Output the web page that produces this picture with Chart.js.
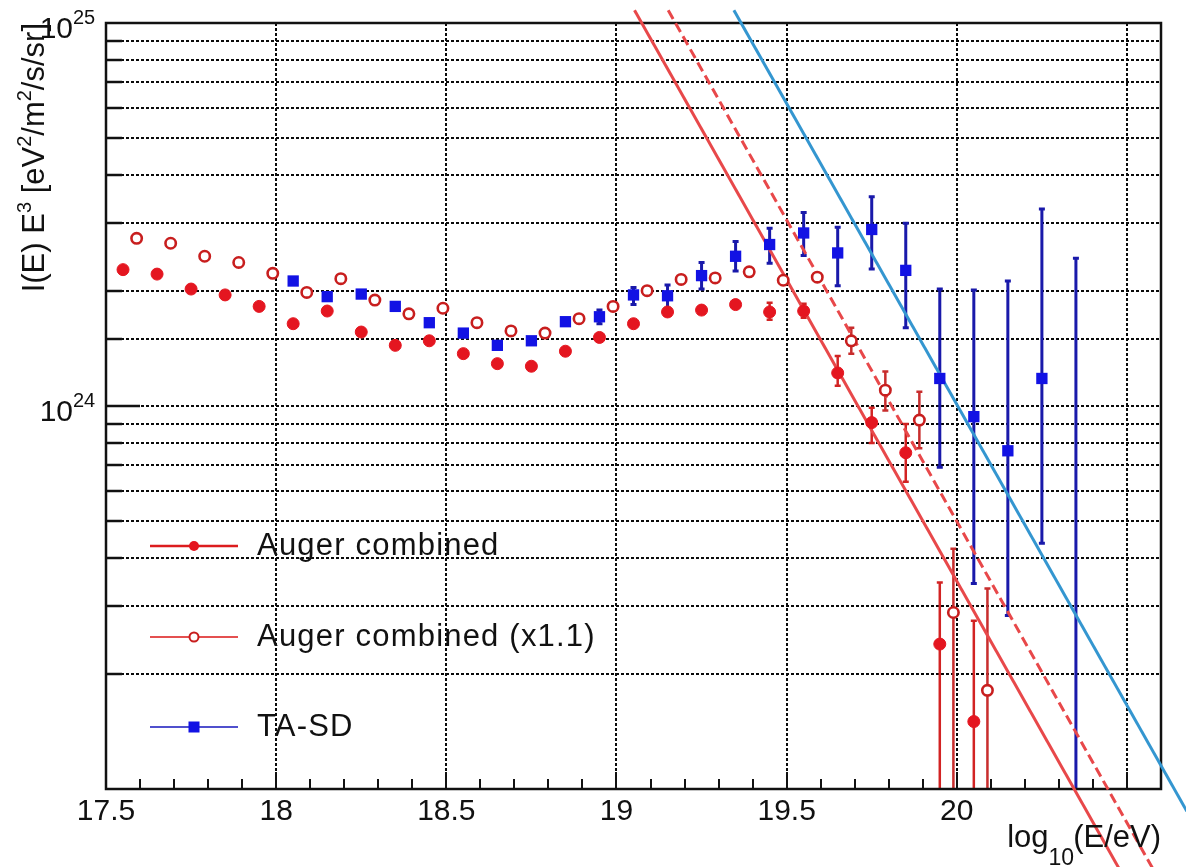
<!DOCTYPE html>
<html>
<head>
<meta charset="utf-8">
<script src="https://cdn.jsdelivr.net/npm/chart.js@4.4.0/dist/chart.umd.min.js"></script>
<style>
  html, body { margin: 0; padding: 0; background: #ffffff; }
  #wrap { width: 1186px; height: 867px; position: relative; }
</style>
</head>
<body>
<div id="wrap"><canvas id="c"></canvas></div>
<script>
// ---------------- data ----------------
// Auger combined (filled red circles)
const augerX = [17.55, 17.65, 17.75, 17.85, 17.95, 18.05, 18.15, 18.25, 18.35, 18.45, 18.55, 18.65, 18.75,
                18.85, 18.95, 19.05, 19.15, 19.25, 19.35, 19.45, 19.55, 19.65, 19.75, 19.85, 19.95, 20.05];
const augerY = [2.27e24, 2.21e24, 2.02e24, 1.95e24, 1.82e24, 1.64e24, 1.77e24, 1.56e24, 1.44e24, 1.48e24, 1.37e24, 1.29e24, 1.27e24,
                1.39e24, 1.51e24, 1.64e24, 1.76e24, 1.78e24, 1.84e24, 1.76e24, 1.77e24, 1.22e24, 9.05e23, 7.55e23, 2.39e23, 1.50e23];
const augerErrLo = [null, null, null, null, null, null, null, null, null, null, null, null, null,
                    null, null, null, null, null, null, 1.68e24, 1.70e24, 1.13e24, 8.0e23, 6.34e23, 1e23, 1e23];
const augerErrHi = [null, null, null, null, null, null, null, null, null, null, null, null, null,
                    null, null, null, null, null, null, 1.86e24, 1.85e24, 1.35e24, 9.9e23, 8.97e23, 3.46e23, 2.75e23];

// Auger combined (x1.1) (open red circles)
const auger11X = [17.59, 17.69, 17.79, 17.89, 17.99, 18.09, 18.19, 18.29, 18.39, 18.49, 18.59, 18.69, 18.79,
                  18.89, 18.99, 19.09, 19.19, 19.29, 19.39, 19.49, 19.59, 19.69, 19.79, 19.89, 19.99, 20.09];
const auger11Y = [2.74e24, 2.66e24, 2.46e24, 2.37e24, 2.22e24, 1.98e24, 2.15e24, 1.89e24, 1.74e24, 1.80e24, 1.65e24, 1.57e24, 1.55e24,
                  1.69e24, 1.82e24, 2.00e24, 2.14e24, 2.16e24, 2.24e24, 2.13e24, 2.17e24, 1.48e24, 1.10e24, 9.19e23, 2.89e23, 1.81e23];
const auger11ErrLo = [null, null, null, null, null, null, null, null, null, null, null, null, null,
                      null, null, null, null, null, null, null, null, 1.37e24, 9.73e23, 7.76e23, 1e23, 1e23];
const auger11ErrHi = [null, null, null, null, null, null, null, null, null, null, null, null, null,
                      null, null, null, null, null, null, null, null, 1.60e24, 1.23e24, 1.09e24, 4.24e23, 3.34e23];

// TA-SD (blue squares)
const taX = [18.05, 18.15, 18.25, 18.35, 18.45, 18.55, 18.65, 18.75, 18.85, 18.95, 19.05, 19.15,
             19.25, 19.35, 19.45, 19.55, 19.65, 19.75, 19.85, 19.95, 20.05, 20.15, 20.25, 20.35];
const taY = [2.12e24, 1.93e24, 1.96e24, 1.82e24, 1.65e24, 1.55e24, 1.44e24, 1.48e24, 1.66e24, 1.71e24, 1.95e24, 1.94e24,
             2.19e24, 2.46e24, 2.64e24, 2.83e24, 2.51e24, 2.89e24, 2.26e24, 1.18e24, 9.38e23, 7.64e23, 1.18e24, null];
const taErrLo = [null, null, null, null, null, null, null, null, null, 1.64e24, 1.84e24, 1.80e24,
                 2.02e24, 2.25e24, 2.36e24, 2.47e24, 2.06e24, 2.28e24, 1.60e24, 6.92e23, 3.44e23, 2.84e23, 4.38e23, 1e23];
const taErrHi = [null, null, null, null, null, null, null, null, null, 1.78e24, 2.04e24, 2.07e24,
                 2.37e24, 2.69e24, 2.91e24, 3.20e24, 2.93e24, 3.52e24, 3.00e24, 2.02e24, 2.01e24, 2.12e24, 3.27e24, 2.43e24];

// straight fit lines (end points)
const fitAugerX = [19.053, 20.479];
const fitAugerY = [1.08e25, 6.15e22];
const fitAuger11X = [19.152, 20.578];
const fitAuger11Y = [1.08e25, 6.15e22];
const fitTAX = [19.345, 20.676];
const fitTAY = [1.08e25, 8.75e22];

// axes
const xMin = 17.5, xMax = 20.6;
const yMin = 1e23, yMax = 1e25;
const xLabelTicks = [17.5, 18, 18.5, 19, 19.5, 20, 20.5];
const yDecades = [1e24, 1e25];
const yDecadeExp = ['24', '25'];
// y title as [text, isSuperscript] pieces: I(E) E^3 [eV^2/m^2/s/sr]
const yTitleParts = [['I(E) E', false], ['3', true], [' [eV', false], ['2', true], ['/m', false], ['2', true], ['/s/sr]', false]];
const xTitleMain = 'log';
const xTitleSub = '10';
const xTitleRest = '(E/eV)';
const legendLabels = ['Auger combined', 'Auger combined (x1.1)', 'TA-SD'];

// ---------------- styling ----------------
const FONT = "'Liberation Sans', Arial, Helvetica, sans-serif";
const TXT = '#111111';
const GRID = '#0a0a0a';
const GRID_DASH = [3, 2];
const RED = 'rgb(228,22,32)';
const RED_OPEN = 'rgb(200,30,30)';
const BLUE = 'rgb(18,18,228)';
const FIT_RED = 'rgb(232,72,74)';
const FIT_BLUE = 'rgb(52,150,208)';

const pts = (xs, ys) => xs.map((x, i) => ({ x: x, y: ys[i] }));

function isMajorX(v) { return xLabelTicks.some(t => Math.abs(t - v) < 1e-6); }

const errorBars = {
  id: 'errorBars',
  beforeDatasetsDraw(chart) {
    const { ctx, chartArea: a, scales: { x, y } } = chart;
    ctx.save();
    ctx.beginPath();
    ctx.rect(a.left, a.top, a.right - a.left, a.bottom - a.top);
    ctx.clip();
    chart.data.datasets.forEach(ds => {
      if (!ds.errLo) return;
      ctx.strokeStyle = ds.errColor;
      ctx.lineWidth = ds.errWidth;
      ds.errX.forEach((xv, i) => {
        const lo = ds.errLo[i], hi = ds.errHi[i];
        if (lo == null || hi == null) return;
        const px = x.getPixelForValue(xv);
        const p1 = y.getPixelForValue(lo);
        const p2 = y.getPixelForValue(hi);
        ctx.beginPath();
        ctx.moveTo(px, p1); ctx.lineTo(px, p2);
        ctx.moveTo(px - 3, p2); ctx.lineTo(px + 3, p2);
        if (lo > yMin) { ctx.moveTo(px - 3, p1); ctx.lineTo(px + 3, p1); }
        ctx.stroke();
      });
    });
    ctx.restore();
  }
};

const frameAndTicks = {
  id: 'frameAndTicks',
  beforeDatasetsDraw(chart) {
    const { ctx, chartArea: a, scales: { x, y } } = chart;
    ctx.save();
    // vertical grid lines at the labelled x ticks
    ctx.strokeStyle = GRID;
    ctx.lineWidth = 2;
    ctx.setLineDash(GRID_DASH);
    xLabelTicks.forEach(v => {
      if (Math.abs(v - xMin) < 1e-6 || Math.abs(v - xMax) < 1e-6) return;
      const px = Math.round(x.getPixelForValue(v));
      ctx.beginPath(); ctx.moveTo(px, a.top); ctx.lineTo(px, a.bottom); ctx.stroke();
    });
    ctx.setLineDash([]);
    ctx.strokeStyle = '#111';
    // x ticks (inside, at bottom)
    ctx.lineWidth = 2;
    for (let k = 0; k <= 31; k++) {
      const v = xMin + k * 0.1;
      if (v > xMax + 1e-9) break;
      const px = Math.round(x.getPixelForValue(v));
      const len = isMajorX(v) ? 17 : 10;
      ctx.beginPath(); ctx.moveTo(px, a.bottom); ctx.lineTo(px, a.bottom - len); ctx.stroke();
    }
    // y ticks (inside, at left)
    ctx.lineWidth = 2.5;
    y.ticks.forEach(t => {
      const v = t.value;
      if (v <= yMin * 1.0001 || v >= yMax * 0.9999) return;
      const py = Math.round(y.getPixelForValue(v));
      const dec = Math.abs(Math.log10(v) - Math.round(Math.log10(v))) < 1e-6;
      const len = dec ? 34 : 16;
      ctx.beginPath(); ctx.moveTo(a.left, py); ctx.lineTo(a.left + len, py); ctx.stroke();
    });
    // frame
    ctx.lineWidth = 2.5;
    ctx.strokeRect(a.left, a.top, a.right - a.left, a.bottom - a.top);
    ctx.restore();
  },
  afterDraw(chart) {
    const { ctx, chartArea: a, scales: { y } } = chart;
    ctx.save();
    ctx.fillStyle = TXT;
    ctx.textBaseline = 'alphabetic';
    // y decade labels 10^n
    yDecades.forEach((v, i) => {
      const py = y.getPixelForValue(v);
      ctx.font = '30px ' + FONT;
      ctx.textAlign = 'right';
      ctx.fillText('10', 73, py + 15);
      ctx.font = '20px ' + FONT;
      ctx.textAlign = 'left';
      ctx.fillText(yDecadeExp[i], 73, py + 1);
    });
    // y title (rotated, ends at top of plot)
    ctx.save();
    ctx.translate(44, a.top);
    ctx.rotate(-Math.PI / 2);
    ctx.textAlign = 'left';
    let total = 0;
    yTitleParts.forEach(([t, sup]) => {
      ctx.font = (sup ? '20px ' : '31px ') + FONT;
      total += ctx.measureText(t).width;
    });
    let u = -total;
    yTitleParts.forEach(([t, sup]) => {
      ctx.font = (sup ? '20px ' : '31px ') + FONT;
      ctx.fillText(t, u, sup ? -13 : 0);
      u += ctx.measureText(t).width;
    });
    ctx.restore();
    // x title: log_10(E/eV), right aligned to plot edge
    ctx.textAlign = 'right';
    ctx.font = '31px ' + FONT;
    const w1 = ctx.measureText(xTitleRest).width;
    ctx.fillText(xTitleRest, a.right, 847);
    ctx.font = '23px ' + FONT;
    const w2 = ctx.measureText(xTitleSub).width;
    ctx.fillText(xTitleSub, a.right - w1 + 1, 865);
    ctx.font = '31px ' + FONT;
    ctx.fillText(xTitleMain, a.right - w1 - w2 + 1, 847);
    // legend
    const rows = [546, 637, 727];
    const lineCols = ['rgb(220,28,30)', 'rgb(228,80,80)', 'rgb(80,80,205)'];
    rows.forEach((ry, i) => {
      ctx.strokeStyle = lineCols[i];
      ctx.lineWidth = i === 0 ? 2.5 : 2;
      ctx.beginPath(); ctx.moveTo(150, ry); ctx.lineTo(238, ry); ctx.stroke();
      if (i === 0) {
        ctx.fillStyle = RED;
        ctx.beginPath(); ctx.arc(194, ry, 5, 0, Math.PI * 2); ctx.fill();
      } else if (i === 1) {
        ctx.fillStyle = '#fff'; ctx.strokeStyle = RED_OPEN; ctx.lineWidth = 2;
        ctx.beginPath(); ctx.arc(194, ry, 4.5, 0, Math.PI * 2); ctx.fill(); ctx.stroke();
      } else {
        ctx.fillStyle = BLUE;
        ctx.fillRect(188.5, ry - 5.5, 11, 11);
      }
      ctx.fillStyle = TXT;
      ctx.font = '31px ' + FONT;
      ctx.textAlign = 'left';
      try { ctx.letterSpacing = '1.2px'; } catch (e) {}
      ctx.fillText(legendLabels[i], 257, ry + 9);
      try { ctx.letterSpacing = '0px'; } catch (e) {}
    });
    ctx.restore();
  }
};

new Chart(document.getElementById('c'), {
  type: 'line',
  data: {
    datasets: [
      {
        label: legendLabels[0],
        data: pts(augerX, augerY),
        showLine: false,
        pointStyle: 'circle',
        pointRadius: 6,
        pointBorderWidth: 1,
        pointBackgroundColor: RED,
        pointBorderColor: RED,
        errX: augerX, errLo: augerErrLo, errHi: augerErrHi,
        errColor: 'rgb(210,35,35)', errWidth: 2.5
      },
      {
        label: legendLabels[1],
        data: pts(auger11X, auger11Y),
        showLine: false,
        pointStyle: 'circle',
        pointRadius: 5.2,
        pointBorderWidth: 2.6,
        pointBackgroundColor: '#ffffff',
        pointBorderColor: RED_OPEN,
        errX: auger11X, errLo: auger11ErrLo, errHi: auger11ErrHi,
        errColor: 'rgb(200,45,45)', errWidth: 2.5
      },
      {
        label: legendLabels[2],
        data: pts(taX, taY),
        showLine: false,
        pointStyle: 'rect',
        pointRadius: 8,
        pointBorderWidth: 0,
        pointBackgroundColor: BLUE,
        pointBorderColor: BLUE,
        errX: taX, errLo: taErrLo, errHi: taErrHi,
        errColor: 'rgb(25,25,170)', errWidth: 3
      },
      {
        label: 'Auger fit',
        data: pts(fitAugerX, fitAugerY),
        showLine: true, pointRadius: 0, borderColor: FIT_RED, borderWidth: 3,
        tension: 0, clip: false
      },
      {
        label: 'Auger (x1.1) fit',
        data: pts(fitAuger11X, fitAuger11Y),
        showLine: true, pointRadius: 0, borderColor: FIT_RED, borderWidth: 3,
        borderDash: [10, 5], tension: 0, clip: false
      },
      {
        label: 'TA-SD fit',
        data: pts(fitTAX, fitTAY),
        showLine: true, pointRadius: 0, borderColor: FIT_BLUE, borderWidth: 3,
        tension: 0, clip: false
      }
    ]
  },
  options: {
    responsive: true,
    maintainAspectRatio: false,
    animation: false,
    events: [],
    layout: { padding: { top: 23, right: 25, left: 0, bottom: 0 } },
    plugins: { legend: { display: false }, tooltip: { enabled: false }, title: { display: false } },
    scales: {
      x: {
        type: 'linear',
        min: xMin, max: xMax,
        afterFit: s => { s.height = 78; },
        ticks: {
          stepSize: 0.5,
          autoSkip: false,
          maxRotation: 0,
          minRotation: 0,
          padding: 5,
          color: TXT,
          font: { family: FONT, size: 30 },
          callback: v => {
            const m = xLabelTicks.find(t => Math.abs(t - v) < 1e-6);
            return m === undefined ? '' : String(m);
          }
        },
        grid: { display: false, drawTicks: false },
        border: { display: false }
      },
      y: {
        type: 'logarithmic',
        min: yMin, max: yMax,
        position: 'left',
        afterFit: s => { s.width = 106; },
        ticks: { display: false },
        grid: {
          drawTicks: false,
          lineWidth: 2,
          color: c => {
            const v = c.tick ? c.tick.value : null;
            if (v == null) return 'rgba(0,0,0,0)';
            if (v <= yMin * 1.0001 || v >= yMax * 0.9999) return 'rgba(0,0,0,0)';
            return GRID;
          }
        },
        border: { display: false, dash: GRID_DASH }
      }
    }
  },
  plugins: [errorBars, frameAndTicks]
});
</script>
</body>
</html>
